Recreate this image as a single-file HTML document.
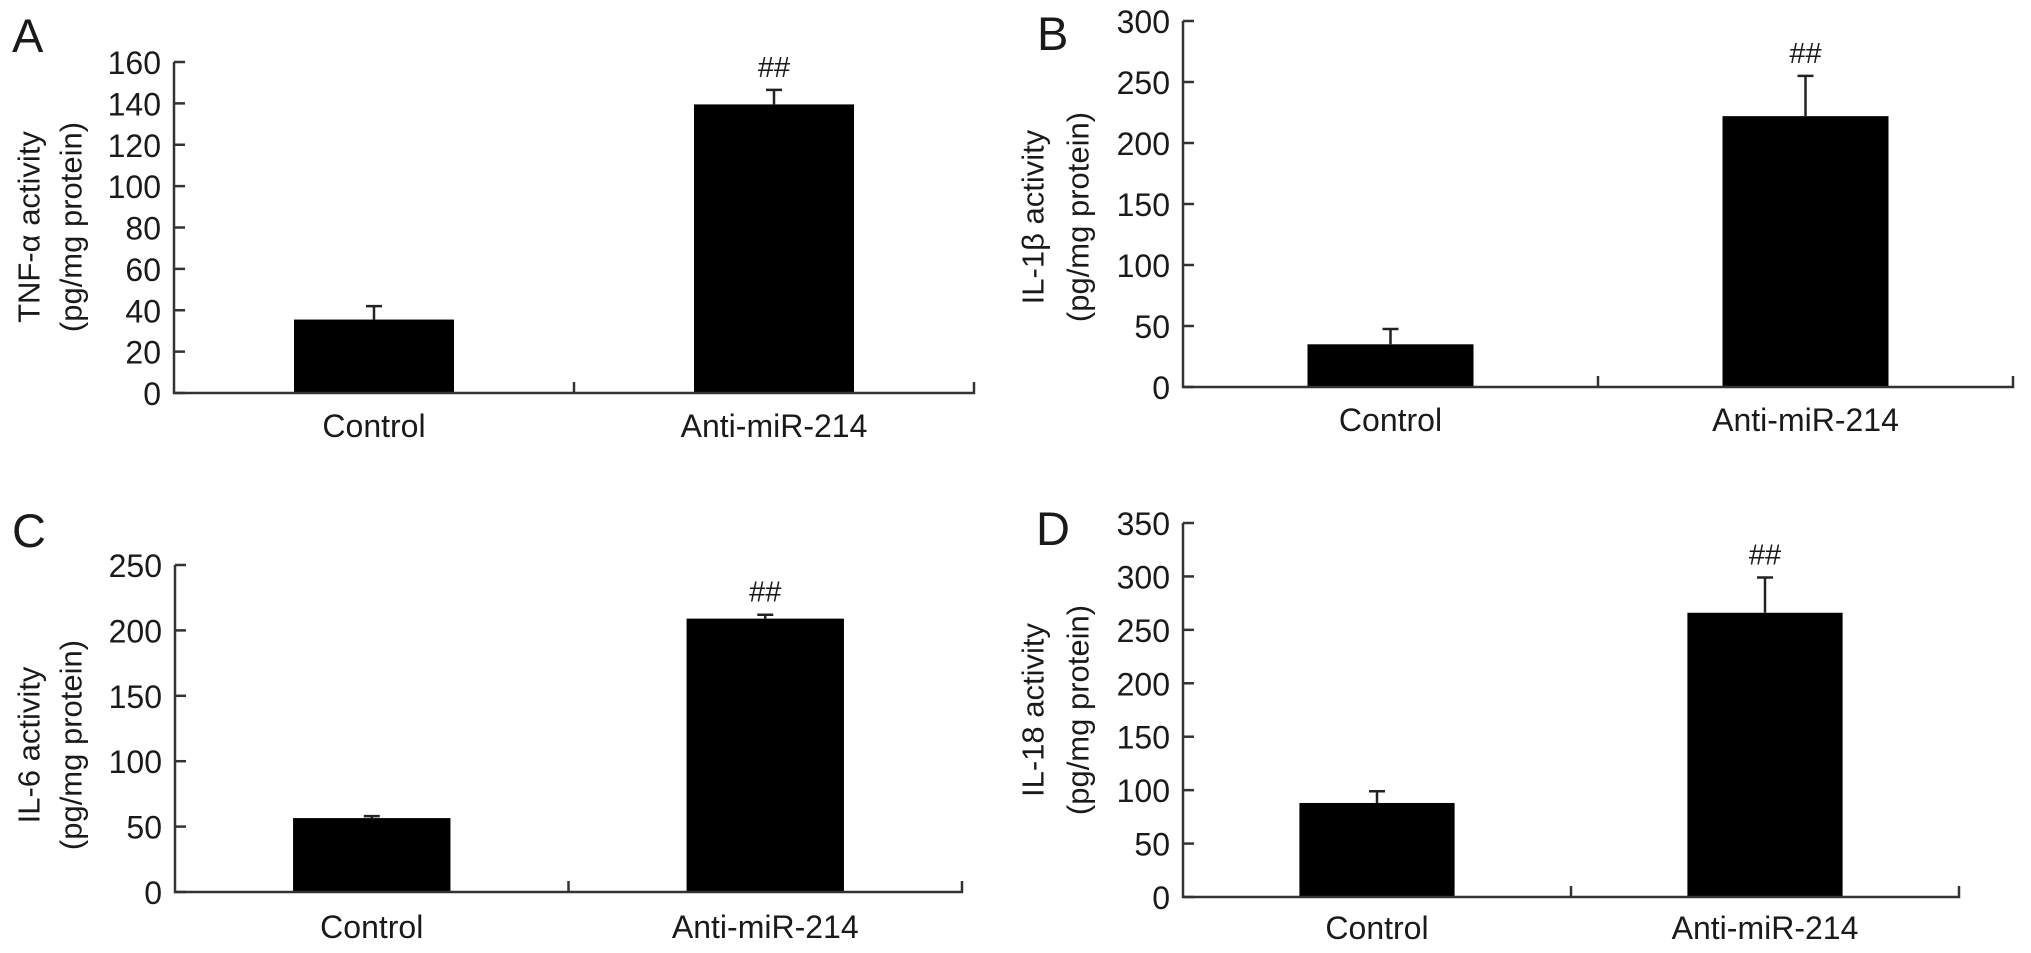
<!DOCTYPE html>
<html><head><meta charset="utf-8"><style>
html,body{margin:0;padding:0;background:#fff;}
svg{display:block;}
text{font-family:"Liberation Sans",Arial,sans-serif;fill:#1a1a1a;}
</style></head><body>
<svg id="fig" width="2031" height="953" viewBox="0 0 2031 953" xmlns="http://www.w3.org/2000/svg"></svg>
<script>
const categories = ["Control", "Anti-miR-214"];
const valuesA = [35.5, 139.5];
const errorsA = [42, 146.5];
const ticksA = [0, 20, 40, 60, 80, 100, 120, 140, 160];
const valuesB = [35, 222];
const errorsB = [47.5, 255];
const ticksB = [0, 50, 100, 150, 200, 250, 300];
const valuesC = [56.5, 209];
const errorsC = [58, 212];
const ticksC = [0, 50, 100, 150, 200, 250];
const valuesD = [88, 266];
const errorsD = [99, 299];
const ticksD = [0, 50, 100, 150, 200, 250, 300, 350];
const sigMarks = ["", "##"];

const NS = "http://www.w3.org/2000/svg";
const svg = document.getElementById("fig");
function mk(tag, attrs, parent){
  const e = document.createElementNS(NS, tag);
  for (const k in attrs) e.setAttribute(k, attrs[k]);
  (parent||svg).appendChild(e);
  return e;
}
const panels = [
  {id:"a", letter:"A", lx:12, ly:52, x0:174, x1:974, y0:393, y1:62, ticks:ticksA, vals:valuesA, errs:errorsA,
   t1:"TNF-\u03b1 activity", t2:"(pg/mg protein)", tx1:29, tx2:71, ty:227, labY:437},
  {id:"b", letter:"B", lx:1037, ly:50, x0:1183, x1:2013, y0:387, y1:21, ticks:ticksB, vals:valuesB, errs:errorsB,
   t1:"IL-1\u03b2 activity", t2:"(pg/mg protein)", tx1:1033, tx2:1078, ty:217, labY:431},
  {id:"c", letter:"C", lx:12, ly:547, x0:175, x1:962, y0:892, y1:565, ticks:ticksC, vals:valuesC, errs:errorsC,
   t1:"IL-6 activity", t2:"(pg/mg protein)", tx1:29, tx2:71, ty:745, labY:938},
  {id:"d", letter:"D", lx:1036, ly:545, x0:1183, x1:1959, y0:897, y1:523, ticks:ticksD, vals:valuesD, errs:errorsD,
   t1:"IL-18 activity", t2:"(pg/mg protein)", tx1:1033, tx2:1078, ty:710, labY:939}
];
panels.forEach(p => {
  const g = mk("g", {});
  
  
  const tmax = p.ticks[p.ticks.length-1];
  const yS = v => p.y0 - (v / tmax) * (p.y0 - p.y1);
  const W = p.x1 - p.x0;
  const xC = i => p.x0 + W * (0.25 + 0.5 * i);
  const bw = W * 0.2;
  const lt = mk("text", {x:p.lx, y:p.ly, "font-size":47}, g);
  lt.textContent = p.letter;
  
  
  p.vals.forEach((v, i) => {
    const r = mk("rect", {x:xC(i)-bw/2, y:yS(v), width:bw, height:p.y0-yS(v), fill:"#000"}, g);
    
    
    const e = mk("path", {d:`M${xC(i)},${yS(v)}V${yS(p.errs[i])}M${xC(i)-8},${yS(p.errs[i])}H${xC(i)+8}`, stroke:"#222", "stroke-width":2.5, fill:"none"}, g);
    
    
    if (sigMarks[i]) {
      const s = mk("text", {x:xC(i), y:yS(p.errs[i])-13, "font-size":29, "text-anchor":"middle", "font-family":"Liberation Serif"}, g);
      s.textContent = sigMarks[i];
      
      
    }
    const cl = mk("text", {x:xC(i), y:p.labY, "font-size":32, "text-anchor":"middle"}, g);
    cl.textContent = categories[i];
    
    
  });
  const ax = mk("path", {d:`M${p.x0},${p.y1}V${p.y0}H${p.x1}V${p.y0-11}M${(p.x0+p.x1)/2},${p.y0}V${p.y0-11}`, stroke:"#333", "stroke-width":2.5, fill:"none"}, g);
  
  
  p.ticks.forEach(t => {
    const tk = mk("line", {x1:p.x0, x2:p.x0+11, y1:yS(t), y2:yS(t), stroke:"#333", "stroke-width":2.5}, g);
    
    
    const tl = mk("text", {x:p.x0-13, y:yS(t)+12, "font-size":32, "text-anchor":"end"}, g);
    tl.textContent = t;
    
    
  });
  const t1 = mk("text", {x:p.tx1, y:p.ty, "font-size":31, "text-anchor":"middle", transform:`rotate(-90 ${p.tx1} ${p.ty})`, "dominant-baseline":"central"}, g);
  t1.textContent = p.t1;
  
  
  const t2 = mk("text", {x:p.tx2, y:p.ty, "font-size":31, "text-anchor":"middle", transform:`rotate(-90 ${p.tx2} ${p.ty})`, "dominant-baseline":"central"}, g);
  t2.textContent = p.t2;
  
  
});
</script>
</body></html>
